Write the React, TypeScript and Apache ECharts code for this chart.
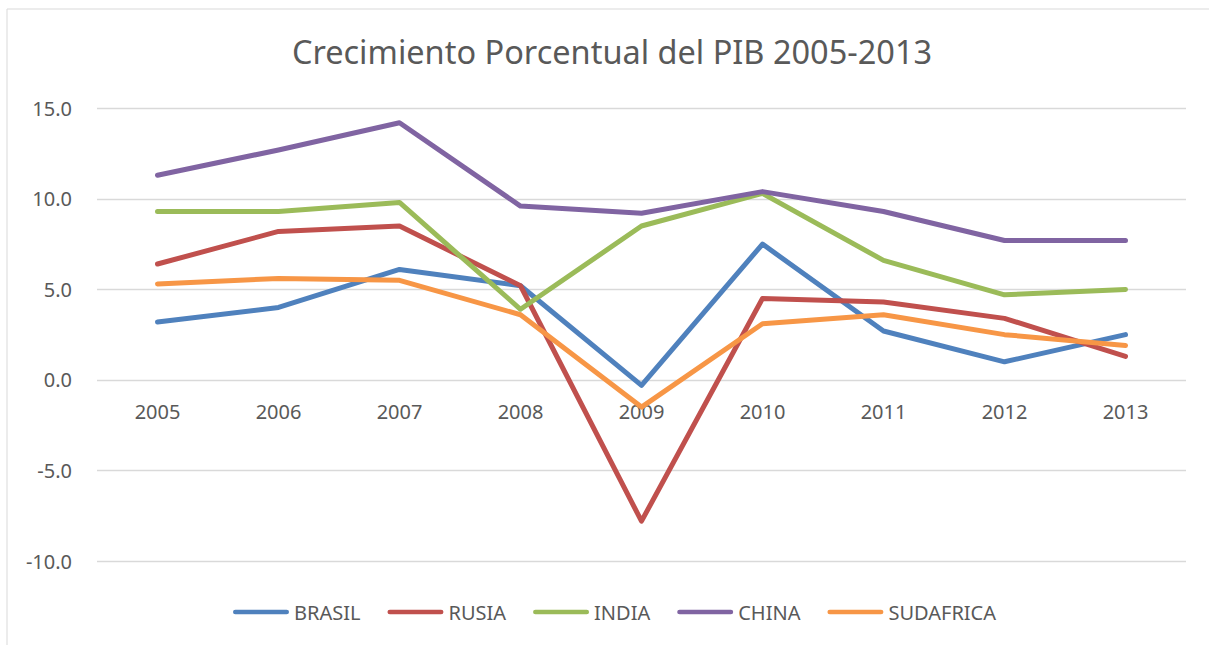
import React, { useEffect, useRef } from "react";
import * as echarts from "echarts";

const years = ["2005", "2006", "2007", "2008", "2009", "2010", "2011", "2012", "2013"];
const brasil = [3.2, 4.0, 6.1, 5.2, -0.3, 7.5, 2.7, 1.0, 2.5];
const rusia = [6.4, 8.2, 8.5, 5.2, -7.8, 4.5, 4.3, 3.4, 1.3];
const india = [9.3, 9.3, 9.8, 3.9, 8.5, 10.3, 6.6, 4.7, 5.0];
const china = [11.3, 12.7, 14.2, 9.6, 9.2, 10.4, 9.3, 7.7, 7.7];
const sudafrica = [5.3, 5.6, 5.5, 3.6, -1.5, 3.1, 3.6, 2.5, 1.9];

const seriesNames = ["BRASIL", "RUSIA", "INDIA", "CHINA", "SUDAFRICA"];
const seriesData = [brasil, rusia, india, china, sudafrica];
const colors = ["#4F81BD", "#C0504D", "#9BBB59", "#8064A2", "#F79646"];

const TEXT = "#595959";
const GRID = "#D9D9D9";
const FONT = "'Noto Sans', 'Open Sans', sans-serif";
const LEGEND_ICON =
  "path://M2.35,0 L53.65,0 A2.35,2.35 0 0 1 53.65,4.7 L2.35,4.7 A2.35,2.35 0 0 1 2.35,0 Z";

export default function App() {
  const ref = useRef<HTMLDivElement>(null);
  useEffect(() => {
    document.body.style.margin = "0";
    if (!ref.current) return;
    const chart = echarts.init(ref.current, null, { renderer: "svg" });
    chart.setOption({
      animation: false,
      backgroundColor: "#ffffff",
      textStyle: { fontFamily: FONT },
      color: colors,
      title: {
        text: "Crecimiento Porcentual del PIB 2005-2013",
        left: 607,
        textAlign: "center",
        top: 30,
        textStyle: { color: TEXT, fontSize: 32.5, fontWeight: "normal", fontFamily: FONT },
      },
      graphic: [
        {
          type: "rect",
          shape: { x: 7, y: 9, width: 1400, height: 800 },
          style: { fill: "none", stroke: GRID, lineWidth: 1 },
          silent: true,
          z: -1,
        },
      ],
      legend: {
        left: 228,
        top: 597,
        icon: LEGEND_ICON,
        itemWidth: 56,
        itemHeight: 4.8,
        itemGap: 27,
        textStyle: { color: TEXT, fontSize: 20, fontFamily: FONT },
        data: seriesNames.map((name, i) => ({ name, itemStyle: { color: colors[i] } })),
      },
      grid: { left: 97, right: 23, top: 108.3, bottom: 84, containLabel: false, outerBoundsMode: "none" },
      xAxis: {
        type: "category",
        data: years,
        boundaryGap: true,
        offset: -181.1,
        axisLine: { show: false, onZero: false },
        axisTick: { show: false },
        axisLabel: { color: TEXT, fontSize: 20, margin: 22, fontFamily: FONT },
        splitLine: { show: false },
      },
      yAxis: {
        type: "value",
        min: -10,
        max: 15,
        interval: 5,
        axisLine: { show: false },
        axisTick: { show: false },
        axisLabel: {
          color: TEXT,
          fontSize: 20,
          margin: 25,
          fontFamily: FONT,
          formatter: (v: number) => v.toFixed(1),
        },
        splitLine: { show: true, lineStyle: { color: GRID, width: 1.3 } },
      },
      series: seriesNames.map((name, i) => ({
        name,
        type: "line",
        data: seriesData[i],
        symbol: "none",
        showSymbol: false,
        lineStyle: { width: 5, color: colors[i], cap: "round", join: "round" },
        itemStyle: { color: colors[i] },
      })),
    });
    return () => chart.dispose();
  }, []);
  return (
    <div
      ref={ref}
      style={{ position: "absolute", left: 0, top: 0, width: 1209, height: 645 }}
    />
  );
}
